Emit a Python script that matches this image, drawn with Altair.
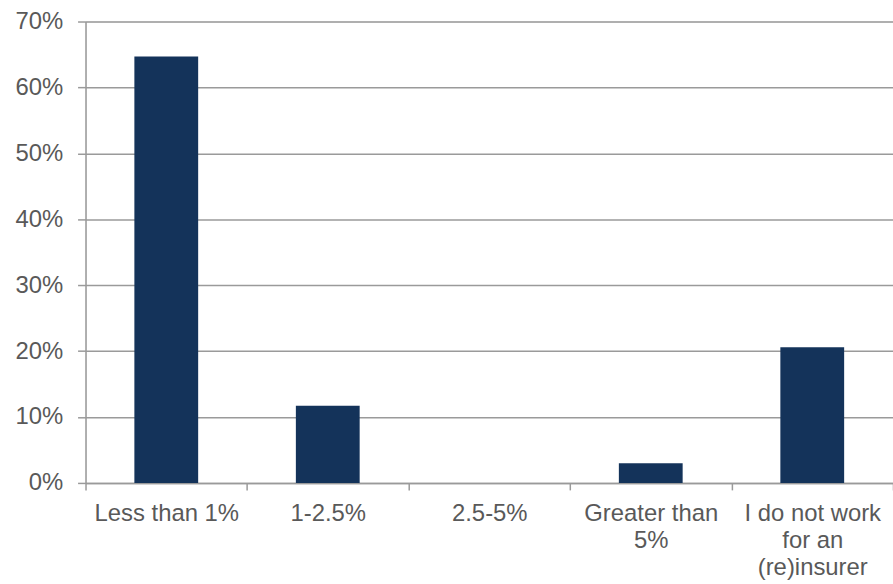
import altair as alt
import pandas as pd

# Survey responses: share of respondents per category
categories = [
    "Less than 1%",
    "1-2.5%",
    "2.5-5%",
    "Greater than 5%",
    "I do not work for an (re)insurer",
]
shares = [0.647, 0.117, 0.0, 0.030, 0.206]

# Axis labels that wrap onto several lines
label_lines = {
    "Greater than 5%": ["Greater than", "5%"],
    "I do not work for an (re)insurer": ["I do not work", "for an", "(re)insurer"],
}

df = pd.DataFrame({"category": categories, "share": shares})

label_expr = "datum.value"
for name, lines in label_lines.items():
    arr = "[" + ",".join("'" + s + "'" for s in lines) + "]"
    label_expr = f"datum.value == '{name}' ? {arr} : ({label_expr})"

GRID = "#9a9a9a"
TEXT = "#595959"
FONT = "Liberation Sans"

chart = (
    alt.Chart(df)
    .mark_bar(color="#14335a", width=alt.RelativeBandSize(0.395))
    .encode(
        x=alt.X(
            "category:N",
            sort=categories,
            title=None,
            scale=alt.Scale(paddingInner=0, paddingOuter=0),
            axis=alt.Axis(
                labelAngle=0,
                labelExpr=label_expr,
                labelFont=FONT,
                labelFontSize=24,
                labelColor=TEXT,
                labelLineHeight=27,
                labelPadding=12,
                tickBand="extent",
                tickSize=7,
                tickColor=GRID,
                tickWidth=1.5,
                domainColor=GRID,
                domainWidth=1.5,
                grid=False,
            ),
        ),
        y=alt.Y(
            "share:Q",
            title=None,
            scale=alt.Scale(domain=[0, 0.7], nice=False),
            axis=alt.Axis(
                format=".0%",
                values=[0, 0.1, 0.2, 0.3, 0.4, 0.5, 0.6, 0.7],
                labelFont=FONT,
                labelFontSize=24,
                labelColor=TEXT,
                labelPadding=15,
                tickSize=8,
                tickColor=GRID,
                tickWidth=1.5,
                domainColor=GRID,
                domainWidth=1.5,
                grid=True,
                gridColor=GRID,
                gridWidth=1.5,
            ),
        ),
    )
    .properties(
        width=812,
        height=464,
        autosize=alt.AutoSizeParams(type="none"),
        padding={"left": 86, "top": 20, "right": 0, "bottom": 100},
    )
    .configure_view(stroke=None)
    .configure(background="white")
)

chart.save("out.html", embed_options={"renderer": "svg", "actions": False})
